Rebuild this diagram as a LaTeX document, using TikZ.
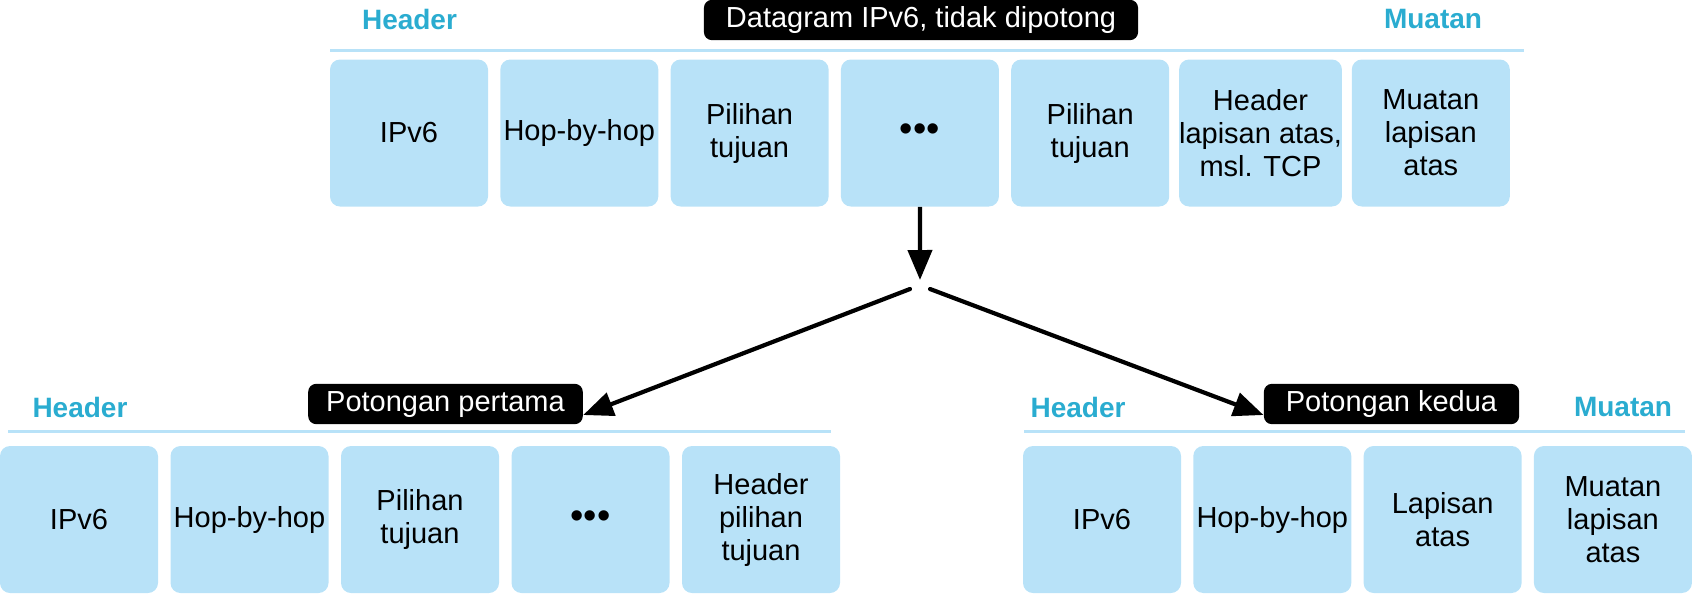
\documentclass[tikz,border=0pt]{standalone}
\usepackage{fontspec}
\setmainfont{Liberation Sans}
\usetikzlibrary{positioning,arrows.meta}
\definecolor{boxblue}{RGB}{184,226,248}
\definecolor{headblue}{RGB}{42,172,208}
\newcommand{\tridot}{{\fontsize{19}{19}\selectfont •••}}

\tikzset{
  part/.style={fill=boxblue, rounded corners=5pt, minimum width=79pt,
    minimum height=73.5pt, inner sep=0pt, align=center,
    font=\fontsize{14.5}{16.5}\selectfont},
  tag/.style={fill=black, text=white, rounded corners=4pt, minimum height=18pt,
    text height=10.5pt, text depth=3pt, inner xsep=9pt,
    font=\fontsize{14.5}{16.5}\selectfont},
  side/.style={text=headblue, inner sep=0pt, font=\fontsize{14}{16}\selectfont\bfseries},
  rule/.style={draw=boxblue, line width=1.5pt},
  flow/.style={-{Triangle[length=15pt,width=12pt]}, line width=2.1pt},
}

\begin{document}
\begin{tikzpicture}[x=0.5pt,y=-0.5pt]
  \useasboundingbox (0,0) rectangle (1697,596);

  % unfragmented datagram
  \node[side] (hd0) at (409.5,19) {Header};
  \node[side] (pl0) at (1433,19) {Muatan};
  \node[tag, inner xsep=11pt] (whole) at (921,20) {Datagram IPv6, tidak dipotong};
  \draw[rule] (330,50) -- (1524,50);
  \foreach \t [count=\i] in {IPv6, Hop-by-hop, Pilihan\\tujuan, \tridot,
      Pilihan\\tujuan, {Header\\lapisan atas,\\msl. TCP}, Muatan\\lapisan\\atas}
    \node[part] (top\i) at ({409+170.3*(\i-1)},133) {\t};

  % first fragment
  \node[side] (hd1) at (80,407) {Header};
  \node[tag] (cut1) at (445.5,404) {Potongan pertama};
  \draw[rule] (8,431) -- (831,431);
  \foreach \t [count=\i] in {IPv6, Hop-by-hop, Pilihan\\tujuan, \tridot,
      Header\\pilihan\\tujuan}
    \node[part] (fst\i) at ({79+170.5*(\i-1)},519.5) {\t};

  % second fragment
  \node[side] (hd2) at (1078,407) {Header};
  \node[side] (pl2) at (1623,407) {Muatan};
  \node[tag, inner xsep=11pt] (cut2) at (1391.5,404) {Potongan kedua};
  \draw[rule] (1024,431) -- (1685,431);
  \foreach \t [count=\i] in {IPv6, Hop-by-hop, Lapisan\\atas, Muatan\\lapisan\\atas}
    \node[part] (snd\i) at ({1102+170.3*(\i-1)},519.5) {\t};

  % arrows
  \coordinate (split) at (920,285);
  \draw[flow] (top4.south) -- ([yshift=2.5pt]split);
  \draw[flow, line cap=round] ([xshift=-5pt,yshift=-2pt]split) -- ([yshift=-5.5pt]cut1.east);
  \draw[flow, line cap=round] ([xshift=5pt,yshift=-2pt]split) -- ([yshift=-5.5pt]cut2.west);
\end{tikzpicture}
\end{document}
